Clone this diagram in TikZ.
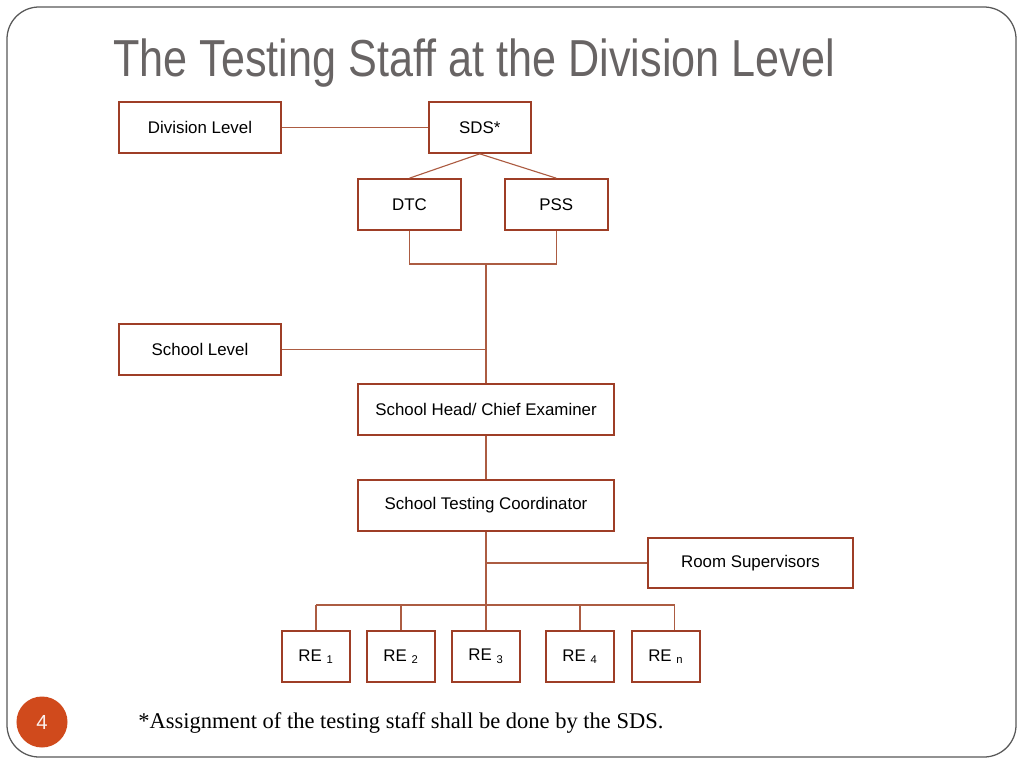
\documentclass[tikz,border=0pt]{standalone}
\usepackage{fontspec}
\setmainfont{Liberation Serif}
\newfontfamily\boxfont{Liberation Sans}
\newfontfamily\titlefont[FakeStretch=0.83]{Liberation Sans}
\usetikzlibrary{positioning}
\usepackage{xcolor}
\definecolor{brick}{RGB}{158, 62, 38}
\definecolor{wire}{RGB}{172, 92, 66}
\definecolor{slate}{RGB}{104, 100, 100}
\definecolor{frame}{RGB}{88, 88, 88}
\definecolor{orange}{RGB}{208, 74, 28}

\begin{document}
\begin{tikzpicture}[
        x=0.025cm, y=-0.025cm,
        node distance=1cm,
        staff/.style={
                rectangle,
                draw=brick,
                line width=1.2pt,
                minimum height=1.275cm,
                inner sep=0pt,
                font=\boxfont\fontsize{12}{14}\selectfont
            },
        link/.style={wire, line width=0.8pt},
        re/.style={staff, minimum width=1.7cm}
    ]
            \useasboundingbox (0,0) rectangle (1024,768);
            \draw[frame, line width=0.9pt, rounded corners=0.8cm] (7,7) rectangle (1016,757);

            \node (title) [
                anchor=base west,
                inner sep=0pt,
                text=slate,
                font=\titlefont\fontsize{37}{40}\selectfont
            ] at (113,77) {The Testing Staff at the Division Level};

            % division level
            \node (1) [staff, minimum width=4.05cm] at (200,127.5) {Division Level};
            \node (2) [staff, minimum width=2.55cm, right=3.65cm of 1] {SDS*};
            \node (3) [staff, minimum width=2.575cm] at (409.5,204.5) {DTC};
            \node (4) [staff, minimum width=2.575cm, right=1.05cm of 3] {PSS};

            % school level
            \node (5) [staff, minimum width=4.05cm] at (200,349.5) {School Level};
            \node (6) [staff, minimum width=6.4cm] at (486,409.5) {School Head/ Chief Examiner};
            \node (7) [staff, minimum width=6.4cm, below=1.075cm of 6] {School Testing Coordinator};
            \node (8) [staff, minimum width=5.125cm, minimum height=1.25cm] at (750.5,563) {Room Supervisors};

            \node (9) [re] at (316,656.5) {RE \textsubscript{1}};
            \node (10) [re] at (401,656.5) {RE \textsubscript{2}};
            \node (11) [re] at (486,656.5) {RE \textsubscript{3}};
            \node (12) [re] at (580,656.5) {RE \textsubscript{4}};
            \node (13) [re] at (665.8,656.5) {RE \textsubscript{n}};

            \coordinate (j1) at (486,264);
            \coordinate (j2) at (486,605);

            \draw[link] (1) -- (2);
            \draw[link] (2.south) -- (3.north);
            \draw[link] (2.south) -- (4.north);
            \draw[link] (3.south) |- (j1) -| (4.south);
            \draw[link] (j1) -- (6.north);
            \draw[link] (5) -- (5 -| 6);
            \draw[link] (6) -- (7);
            \draw[link] (7.south) -- (11.north);
            \draw[link] (8) -- (8 -| 7);
            \draw[link] (9.north |- j2) -- ([xshift=0.21cm]13.north |- j2) -- ([xshift=0.21cm]13.north);
            \foreach \n in {9,10,12}
                \draw[link] (\n.north) -- (\n.north |- j2);

            % footer
            \node (14) [
                circle,
                fill=orange,
                minimum size=1.275cm,
                inner sep=0pt,
                text=white!92!orange,
                font=\boxfont\fontsize{14.5}{16}\selectfont
            ] at (42,722) {4};
            \node (note) [
                anchor=base west,
                inner sep=0pt,
                font=\fontsize{16}{19}\selectfont
            ] at (138,728) {*Assignment of the testing staff shall be done by the SDS.};
        \end{tikzpicture}
\end{document}
